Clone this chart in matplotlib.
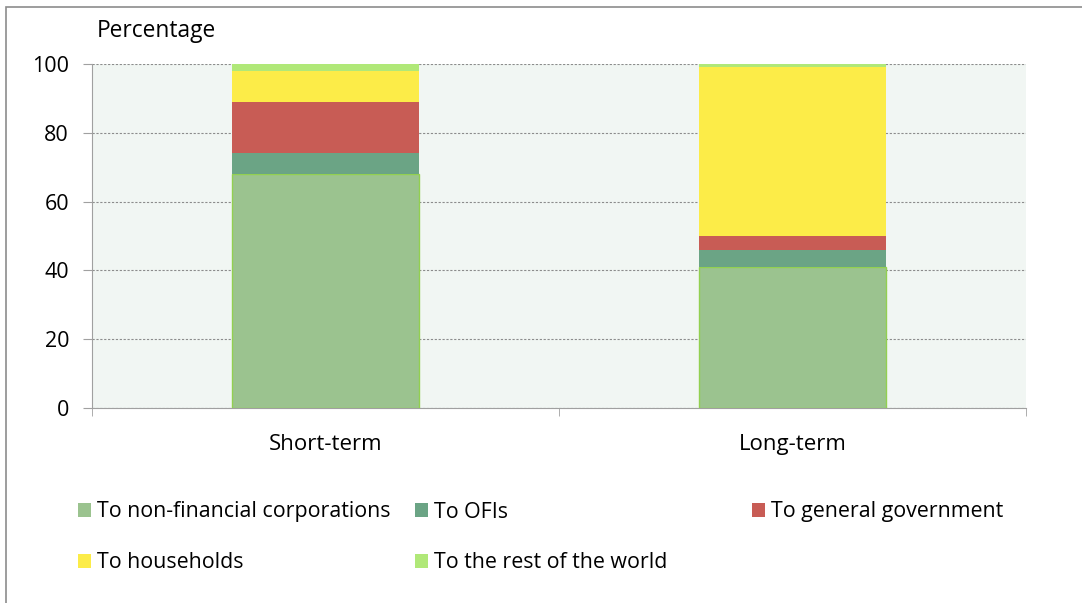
import numpy as np
import matplotlib.pyplot as plt
from matplotlib.patches import Rectangle

plt.rcParams['font.family'] = ['Open Sans', 'DejaVu Sans']

categories = ['Short-term', 'Long-term']
series = ['To non-financial corporations', 'To OFIs', 'To general government',
          'To households', 'To the rest of the world']
nfc = [68, 41]
ofis = [6, 5]
gov = [15, 4]
households = [9, 49]
rest_world = [2, 1]
values = [nfc, ofis, gov, households, rest_world]
colors = ['#9BC38F', '#6BA485', '#C85C55', '#FCEC48', '#B0E878']

fig = plt.figure(figsize=(10.82, 6.03), dpi=100)
ax = fig.add_axes([92/1082, 1-408/603, (1026-92)/1082, (408-64)/603])
ax.set_facecolor('#F1F6F3')

x = np.arange(len(categories))
bottom = np.zeros(len(categories))
for i, (name, vals) in enumerate(zip(series, values)):
    ec = '#92D050' if i == 0 else 'none'
    ax.bar(x, vals, 0.40, bottom=bottom, color=colors[i], edgecolor=ec,
           linewidth=1.0, zorder=3)
    bottom += np.array(vals)

ax.set_xlim(-0.5, 1.5)
ax.set_ylim(0, 100)
ax.set_yticks(range(0, 101, 20))
ax.yaxis.grid(True, color='#8C8C8C', linestyle=(0, (2, 1.5)), linewidth=0.8, zorder=1)
ax.set_xticks(x)
ax.set_xticklabels(categories, fontsize=16)
ax.set_xticks([-0.5, 0.5, 1.5], minor=True)
ax.tick_params(axis='x', which='major', length=0, pad=19)
ax.tick_params(axis='x', which='minor', length=6, color='#A0A0A0')
ax.tick_params(axis='y', length=6.5, color='#A0A0A0', labelsize=15.5, pad=10)
for s in ['top', 'right']:
    ax.spines[s].set_visible(False)
for s in ['left', 'bottom']:
    ax.spines[s].set_color('#A0A0A0')

fig.text(97/1082, 1-31/603, 'Percentage', fontsize=16.4, va='center', ha='left')

# legend laid out like the original (3 columns, 2 rows)
for i, name in enumerate(series):
    col, row = i % 3, i // 3
    lx = 78/1082 + col * 337/1082
    ly = 1 - (510 + row * 51)/603
    fig.patches.append(Rectangle((lx, ly - 7/603), 13/1082, 14/603,
                                 transform=fig.transFigure, facecolor=colors[i],
                                 edgecolor='none'))
    fig.text(lx + 19/1082, ly - 2/603, name, fontsize=15.4, va='center', ha='left')

# outer frame
fig.patches.append(Rectangle((6/1082, -0.05), 1.1, 1 - 7/603 + 0.05,
                             transform=fig.transFigure, facecolor='none',
                             edgecolor='#8C8C8C', linewidth=1.2))

fig.savefig('out.png', dpi=100)
